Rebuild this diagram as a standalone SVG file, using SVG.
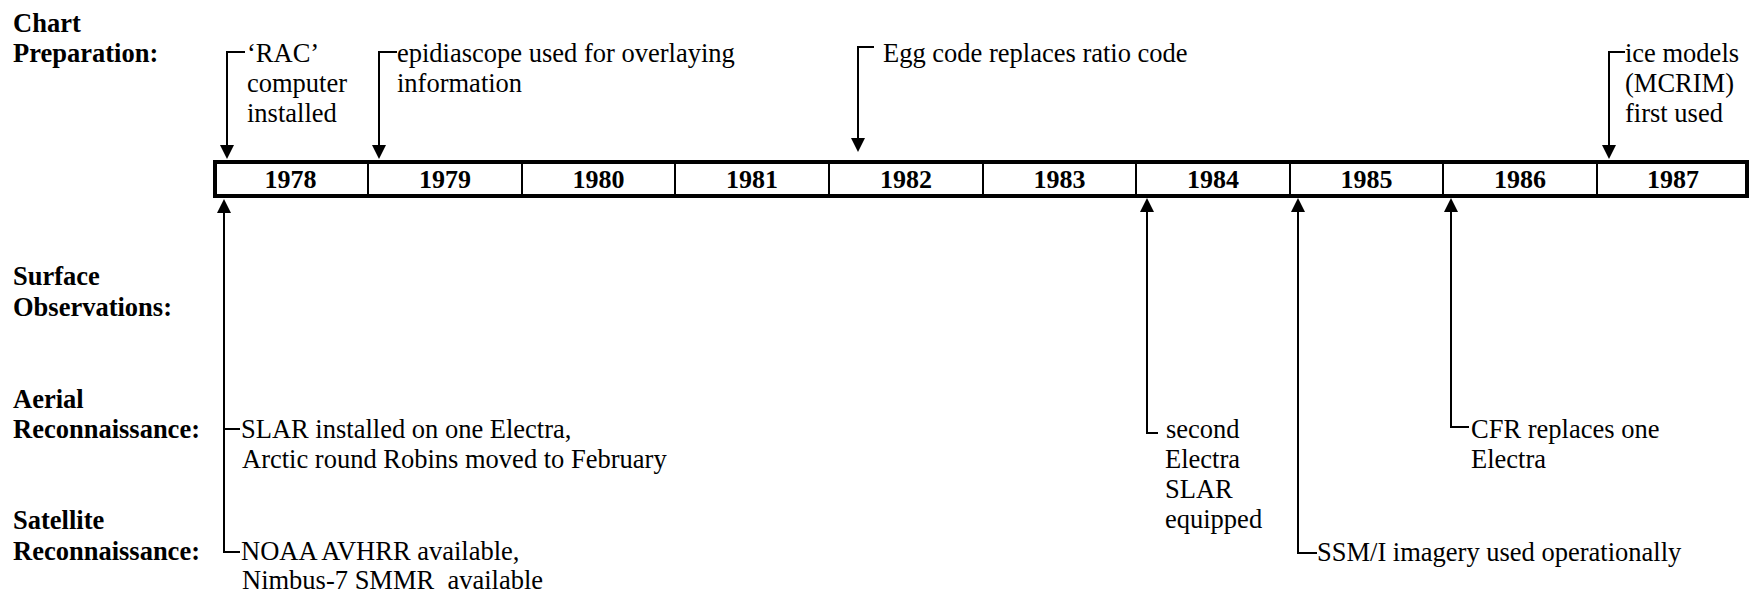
<svg xmlns="http://www.w3.org/2000/svg" width="1751" height="596" viewBox="0 0 1751 596">
<style>
text{font-family:"Liberation Serif","Times New Roman",serif;font-size:26.5px;fill:#000;white-space:pre}
.b{font-weight:bold}
.yr{font-weight:bold;font-size:26px;text-anchor:middle}
.c{fill:none;stroke:#000;stroke-width:2}
.div{stroke:#000;stroke-width:2}
</style>
<defs>
<marker id="ah" viewBox="0 0 14 14" markerWidth="14" markerHeight="14" refX="0" refY="7" orient="auto" markerUnits="userSpaceOnUse">
<path d="M0,0 L14,7 L0,14 z" fill="#000"/>
</marker>
</defs>
<rect width="1751" height="596" fill="#fff"/>

<g id="row-labels">
<text class="b" x="13" y="32">Chart</text>
<text class="b" x="13" y="62">Preparation:</text>
<text class="b" x="13" y="285">Surface</text>
<text class="b" x="13" y="316">Observations:</text>
<text class="b" x="13" y="408">Aerial</text>
<text class="b" x="13" y="438">Reconnaissance:</text>
<text class="b" x="13" y="529">Satellite</text>
<text class="b" x="13" y="560">Reconnaissance:</text>
</g>

<g id="timeline">
<rect x="215" y="162" width="1532" height="34" fill="#fff" stroke="#000" stroke-width="4"/>
<line class="div" x1="368" y1="162" x2="368" y2="196"/>
<line class="div" x1="522" y1="162" x2="522" y2="196"/>
<line class="div" x1="675" y1="162" x2="675" y2="196"/>
<line class="div" x1="829" y1="162" x2="829" y2="196"/>
<line class="div" x1="983" y1="162" x2="983" y2="196"/>
<line class="div" x1="1136" y1="162" x2="1136" y2="196"/>
<line class="div" x1="1290" y1="162" x2="1290" y2="196"/>
<line class="div" x1="1443" y1="162" x2="1443" y2="196"/>
<line class="div" x1="1597" y1="162" x2="1597" y2="196"/>
<text class="yr" x="290.5" y="188">1978</text>
<text class="yr" x="445" y="188">1979</text>
<text class="yr" x="598.5" y="188">1980</text>
<text class="yr" x="752" y="188">1981</text>
<text class="yr" x="906" y="188">1982</text>
<text class="yr" x="1059.5" y="188">1983</text>
<text class="yr" x="1213" y="188">1984</text>
<text class="yr" x="1366.5" y="188">1985</text>
<text class="yr" x="1520" y="188">1986</text>
<text class="yr" x="1673" y="188">1987</text>
</g>

<g id="connectors">
<path class="c" d="M245,52 H227 V145" marker-end="url(#ah)"/>
<path class="c" d="M397,52 H379 V145" marker-end="url(#ah)"/>
<path class="c" d="M874,47 H858 V138" marker-end="url(#ah)"/>
<path class="c" d="M1625,52 H1609 V145" marker-end="url(#ah)"/>
<path class="c" d="M240,552 H224 V213" marker-end="url(#ah)"/>
<path class="c" d="M224,429 H240"/>
<path class="c" d="M1158,433 H1147 V212" marker-end="url(#ah)"/>
<path class="c" d="M1317,553 H1298 V212" marker-end="url(#ah)"/>
<path class="c" d="M1469,427 H1451 V212" marker-end="url(#ah)"/>
</g>

<g id="ev-rac">
<text x="247" y="62">‘RAC’</text>
<text x="247" y="92">computer</text>
<text x="247" y="122">installed</text>
</g>
<g id="ev-epidiascope">
<text x="397" y="62">epidiascope used for overlaying</text>
<text x="397" y="92">information</text>
</g>
<g id="ev-egg">
<text x="883" y="62">Egg code replaces ratio code</text>
</g>
<g id="ev-ice">
<text x="1625" y="62">ice models</text>
<text x="1625" y="92">(MCRIM)</text>
<text x="1625" y="122">first used</text>
</g>
<g id="ev-slar">
<text x="241" y="438">SLAR installed on one Electra,</text>
<text x="242" y="468">Arctic round Robins moved to February</text>
</g>
<g id="ev-noaa">
<text x="241" y="560">NOAA AVHRR available,</text>
<text x="242" y="589">Nimbus-7 SMMR  available</text>
</g>
<g id="ev-second">
<text x="1166" y="438">second</text>
<text x="1165" y="468">Electra</text>
<text x="1165" y="498">SLAR</text>
<text x="1165" y="528">equipped</text>
</g>
<g id="ev-ssmi">
<text x="1317" y="561">SSM/I imagery used operationally</text>
</g>
<g id="ev-cfr">
<text x="1471" y="438">CFR replaces one</text>
<text x="1471" y="468">Electra</text>
</g>
</svg>
